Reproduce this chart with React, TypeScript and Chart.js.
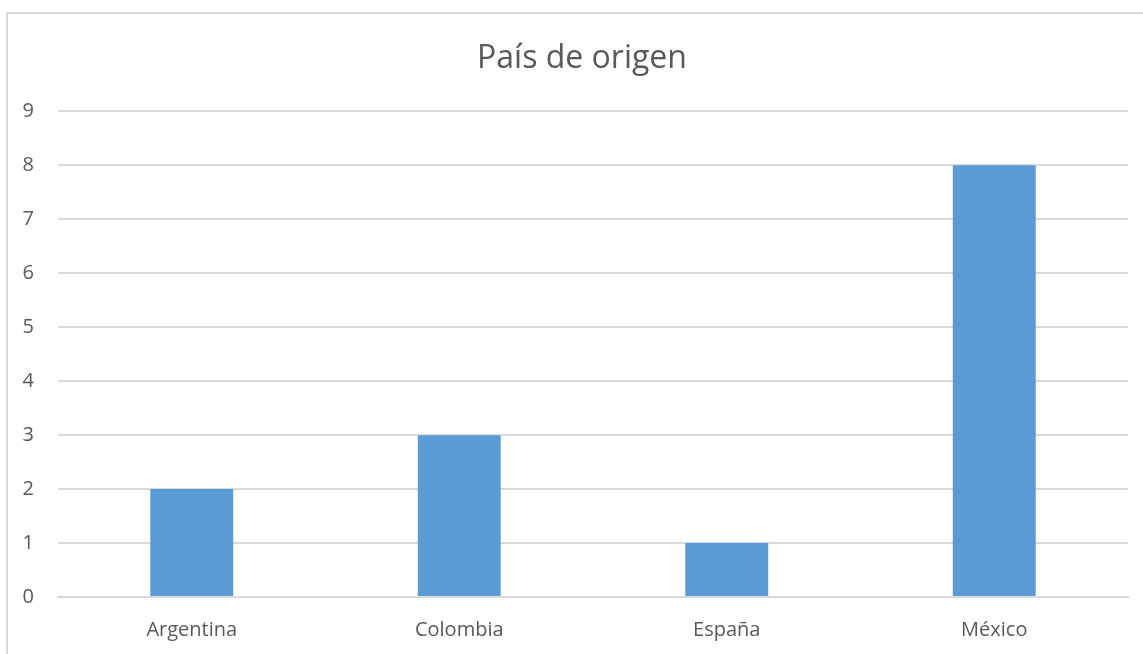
import React, { useEffect, useRef } from "react";
import { Chart, registerables } from "chart.js";

Chart.register(...registerables);

const categories = ["Argentina", "Colombia", "España", "México"];
const counts = [2, 3, 1, 8];
const titleText = "País de origen";

const titleShift = {
  id: "titleShift",
  afterLayout(chart: any) {
    const t = chart.titleBlock;
    if (t) {
      t.left += 36;
    }
  },
};

export default function App() {
  const ref = useRef<HTMLCanvasElement | null>(null);
  useEffect(() => {
    if (!ref.current) return;
    const chart = new Chart(ref.current, {
      type: "bar",
      data: {
        labels: categories,
        datasets: [
          {
            label: "Cuenta",
            data: counts,
            backgroundColor: "#5B9BD5",
            borderWidth: 0,
            barPercentage: 0.62,
            categoryPercentage: 0.5,
          },
        ],
      },
      plugins: [titleShift],
      options: {
        animation: false,
        responsive: false,
        maintainAspectRatio: false,
        layout: { padding: { left: 0, right: 15, top: 0, bottom: 0 } },
        plugins: {
          legend: { display: false },
          tooltip: { enabled: false },
          title: {
            display: true,
            text: titleText,
            color: "#595959",
            font: { family: "'Open Sans'", size: 32, weight: "normal", lineHeight: 1.2 },
            padding: { top: 40, bottom: 33 },
          },
        },
        scales: {
          x: {
            afterFit: (s: any) => {
              s.height = 57;
            },
            grid: { display: false, drawTicks: false },
            border: { display: true, color: "#d9d9d9", width: 2 },
            ticks: {
              color: "#595959",
              font: { family: "'Open Sans'", size: 20 },
              padding: 21,
            },
          },
          y: {
            min: 0,
            max: 9,
            afterFit: (s: any) => {
              s.width = 58;
            },
            grid: { color: "#d9d9d9", lineWidth: 2, drawTicks: false },
            border: { display: false },
            ticks: {
              stepSize: 1,
              color: "#595959",
              font: { family: "'Open Sans'", size: 20 },
              padding: 24,
            },
          },
        },
      },
    });
    return () => chart.destroy();
  }, []);
  return (
    <div style={{ position: "fixed", left: 0, top: 0, width: 1143, height: 654, background: "#fff", overflow: "hidden" }}>
      <div
        style={{
          position: "absolute",
          left: 6,
          top: 12,
          width: 1160,
          height: 700,
          border: "2px solid #d9d9d9",
          boxSizing: "border-box",
        }}
      />
      <canvas ref={ref} width={1143} height={654} style={{ position: "absolute", left: 0, top: 0 }} />
    </div>
  );
}
